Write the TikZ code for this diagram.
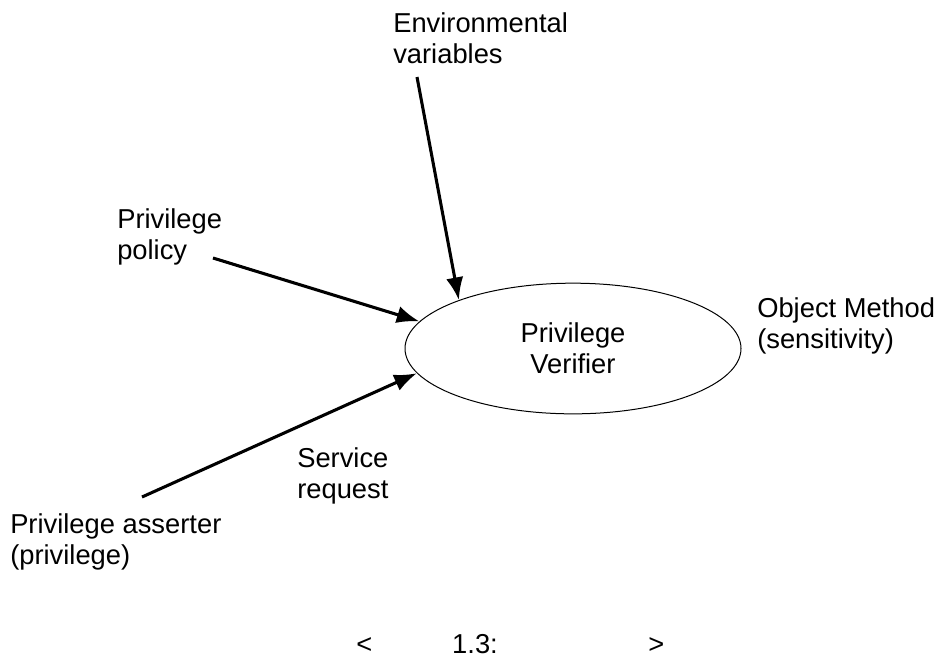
\documentclass[tikz,border=0pt]{standalone}
\usepackage{fontspec}
\setmainfont{Liberation Sans}
\usepackage{tikz}
\usetikzlibrary{positioning}
\usetikzlibrary{arrows.meta}
\usetikzlibrary{shapes.geometric}

\begin{document}
\begin{tikzpicture}[x=0.75pt,y=-0.75pt,
  lbl/.style={align=left,anchor=base west,inner sep=0pt,font=\fontsize{20.5}{23.25}\selectfont},
  feed/.style={line width=2.3pt,-{Latex[length=17pt,width=13pt]}}]
\useasboundingbox (0,0) rectangle (944,662);

\node[ellipse,draw=black,line width=0.75pt,minimum width=252pt,minimum height=98pt,align=center,font=\fontsize{20.5}{23.25}\selectfont](pv) at (573,348.5){Privilege\\Verifier};

% multi-line labels sit on the baseline of their last line
\node[lbl](env) at (393,63){Environmental\\variables};
\node[lbl](pol) at (117,259){Privilege\\policy};
\node[lbl](obj) at (757,348){Object Method\\(sensitivity)};
\node[lbl](srv) at (297,498){Service\\request};
\node[lbl](ast) at (10,564){Privilege asserter\\(privilege)};
\node[lbl](cap) at (356,653){<\hspace{60pt}1.3:\hspace{113pt}>};

\coordinate (envs) at (417,77);
\coordinate (pols) at (213,258);
\coordinate (asts) at (142,497);

\path (envs) edge[feed] (pv.157);
\path (pols) edge[feed] (pv.170);
\path (asts) edge[feed] (pv.189);

\end{tikzpicture}
\end{document}
